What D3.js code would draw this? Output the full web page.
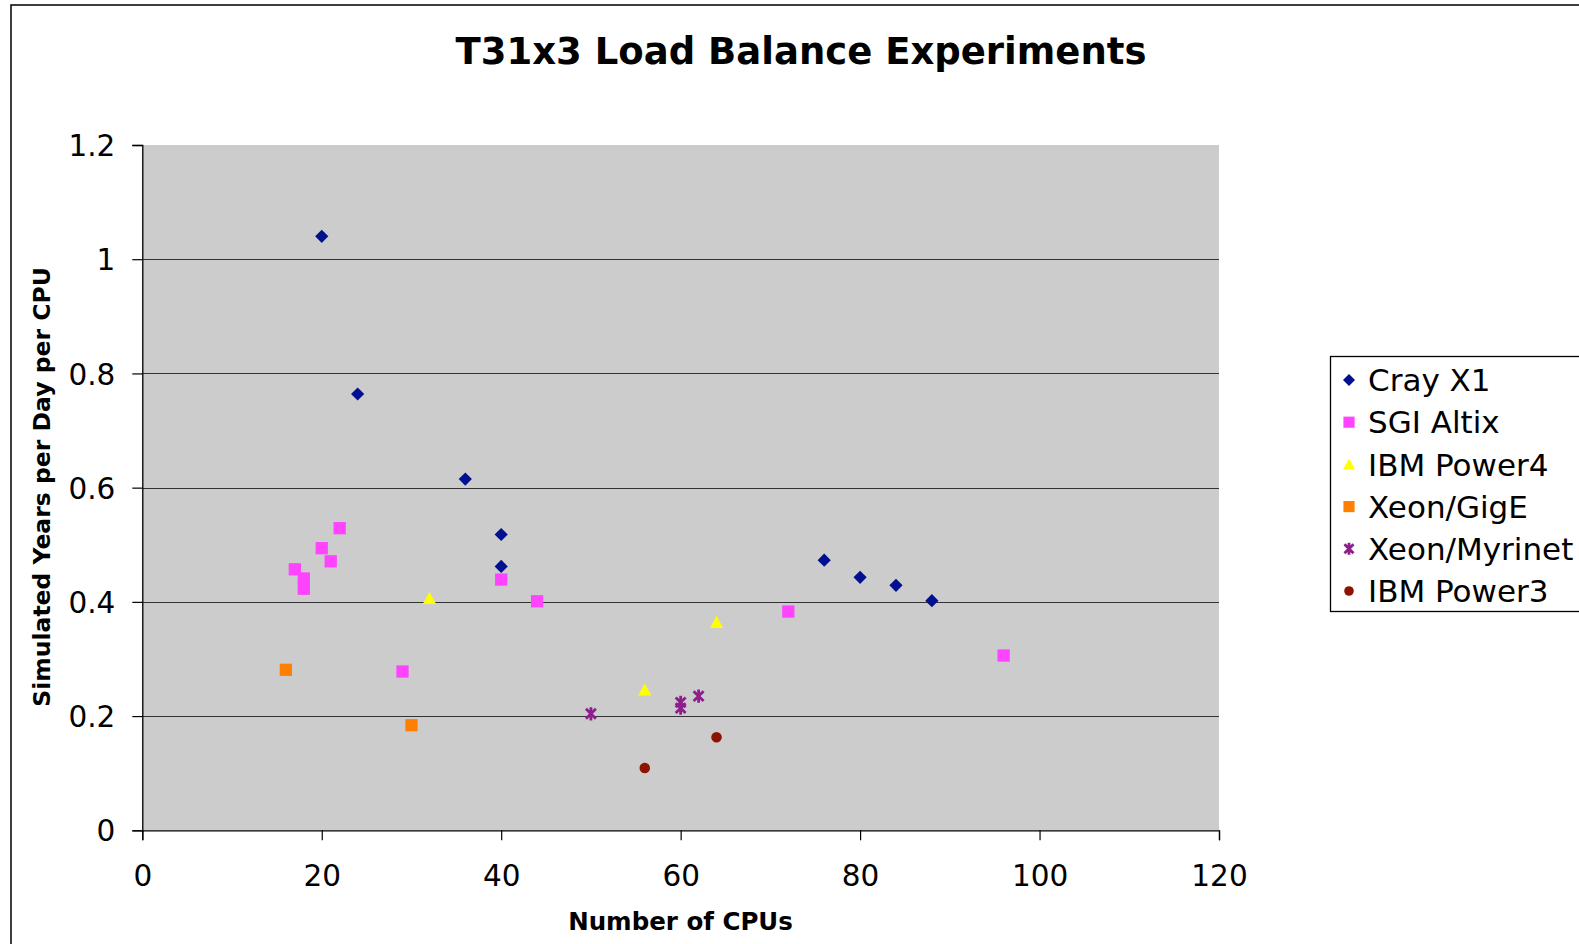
<!DOCTYPE html>
<html><head><meta charset="utf-8">
<script src="https://cdnjs.cloudflare.com/ajax/libs/d3/7.8.5/d3.min.js"></script>
<style>
html,body{margin:0;padding:0;background:#fff;}
svg{display:block;font-family:"DejaVu Sans",Verdana,sans-serif;}
</style></head>
<body><svg id="chart" width="1579" height="944"></svg>
<script>
const chartTitle = "T31x3 Load Balance Experiments";
const xAxisTitle = "Number of CPUs";
const yAxisTitle = "Simulated Years per Day per CPU";
const xTicks = [0, 20, 40, 60, 80, 100, 120];
const yTicks = [0, 0.2, 0.4, 0.6, 0.8, 1, 1.2];
const gridValues = [0.2, 0.4, 0.6, 0.8, 1];

const crayX1 = [[20,1.04],[24,0.764],[36,0.615],[40,0.518],[40,0.462],[76,0.473],[80,0.443],[84,0.429],[88,0.402]];
const sgiAltix = [[17,0.457],[18,0.441],[18,0.423],[20,0.494],[21,0.471],[22,0.529],[29,0.278],[40,0.439],[44,0.401],[72,0.383],[96,0.306]];
const ibmPower4 = [[32,0.406],[56,0.246],[64,0.364]];
const xeonGigE = [[16,0.281],[30,0.184]];
const xeonMyrinet = [[50,0.204],[60,0.214],[60,0.224],[62,0.235]];
const ibmPower3 = [[56,0.109],[64,0.163]];

const seriesNames = ["Cray X1","SGI Altix","IBM Power4","Xeon/GigE","Xeon/Myrinet","IBM Power3"];
const seriesData = [crayX1, sgiAltix, ibmPower4, xeonGigE, xeonMyrinet, ibmPower3];
const seriesColors = ["#001090","#ff44ff","#ffff00","#ff8000","#8e1e8e","#8c1400"];
const seriesShapes = ["diamond","square","triangle","square","star","circle"];

const svg = d3.select("#chart");
const L = 142.3, R = 1219, T = 145, B = 830.3;
const x = d3.scaleLinear().domain([0,120]).range([L,R]);
const y = d3.scaleLinear().domain([0,1.2]).range([B,T]);

// outer border
svg.append("rect").attr("x",11).attr("y",5).attr("width",1600).attr("height",1000)
  .attr("fill","none").attr("stroke","#000").attr("stroke-width",1.5);

// plot background
svg.append("rect").attr("x",L).attr("y",T).attr("width",R-L).attr("height",B-T).attr("fill","#cccccc");

// gridlines
svg.append("g").selectAll("line").data(gridValues).join("line")
  .attr("x1",L).attr("x2",R).attr("y1",d=>Math.round(y(d))+0.5).attr("y2",d=>Math.round(y(d))+0.5)
  .attr("stroke","#333").attr("stroke-width",1.2);

// axes
const xAxis = d3.axisBottom(x).tickValues(xTicks).tickSize(10).tickPadding(25).tickFormat(d3.format("d"));
const yAxis = d3.axisLeft(y).tickValues(yTicks).tickSize(10).tickPadding(17).tickFormat(d=>d3.format("")(d));
const gx = svg.append("g").attr("transform",`translate(0,${B})`).call(xAxis);
const gy = svg.append("g").attr("transform",`translate(${L},0)`).call(yAxis);
[gx,gy].forEach(g=>{
  g.select(".domain").attr("stroke","#000").attr("stroke-width",1.3);
  g.selectAll(".tick line").attr("stroke","#000").attr("stroke-width",1.2);
  g.selectAll(".tick text").attr("fill","#000").style("font-family","'DejaVu Sans',Verdana,sans-serif").style("font-size","29.5px");
});
gy.selectAll(".tick text").attr("dy","0.36em");
gx.selectAll(".tick text").attr("dy","0.71em");

// titles
svg.append("text").attr("x",801).attr("y",64).attr("text-anchor","middle")
  .style("font-size","37px").style("font-weight","bold").text(chartTitle);
svg.append("text").attr("x",680.5).attr("y",930).attr("text-anchor","middle")
  .style("font-size","24.5px").style("font-weight","bold").text(xAxisTitle);
svg.append("text").attr("transform","translate(50,487) rotate(-90)").attr("text-anchor","middle")
  .style("font-size","23.5px").style("font-weight","bold").text(yAxisTitle);

// marker generator
function marker(sel, shape, color, s){
  if(shape==="diamond"){
    sel.append("path").attr("d",`M0,${-s}L${s},0L0,${s}L${-s},0Z`).attr("fill",color);
  } else if(shape==="square"){
    sel.append("rect").attr("x",-s*0.93).attr("y",-s*0.93).attr("width",s*1.86).attr("height",s*1.86).attr("fill",color);
  } else if(shape==="triangle"){
    sel.append("path").attr("d",`M0,${-s}L${s},${s*0.85}L${-s},${s*0.85}Z`).attr("fill",color);
  } else if(shape==="circle"){
    sel.append("circle").attr("r",s*0.8).attr("fill",color);
  } else if(shape==="star"){
    const a=s*0.75;
    sel.append("path").attr("d",`M${-a},${-a}L${a},${a}M${a},${-a}L${-a},${a}M0,${-s}L0,${s}`)
      .attr("stroke",color).attr("stroke-width",2.8).attr("fill","none");
  }
}

const pts = svg.append("g");
seriesData.forEach((data,i)=>{
  pts.append("g").selectAll("g").data(data).join("g")
    .attr("transform",d=>`translate(${x(d[0])},${y(d[1])})`)
    .each(function(){ marker(d3.select(this), seriesShapes[i], seriesColors[i], 6.6); });
});

// legend
const lg = svg.append("g");
lg.append("rect").attr("x",1330.5).attr("y",356.5).attr("width",300).attr("height",255)
  .attr("fill","#fff").attr("stroke","#000").attr("stroke-width",1.3);
seriesNames.forEach((name,i)=>{
  const cy = 380 + i*42.2;
  const g = lg.append("g").attr("transform",`translate(1349,${cy})`);
  marker(g, seriesShapes[i], seriesColors[i], 6);
  lg.append("text").attr("x",1368).attr("y",cy).attr("dy","0.36em")
    .style("font-size","31px").text(name);
});
</script></body></html>
